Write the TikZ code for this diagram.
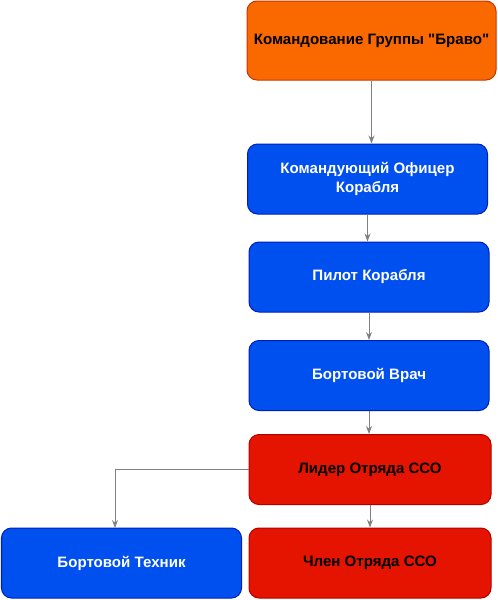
\documentclass[tikz,border=0pt]{standalone}
\usepackage{fontspec}
\setmainfont{Liberation Sans}
\usetikzlibrary{arrows.meta}
\definecolor{orangefill}{HTML}{FA6800}
\definecolor{orangeline}{HTML}{C73500}
\definecolor{bluefill}{HTML}{0050EF}
\definecolor{blueline}{HTML}{001DBC}
\definecolor{redfill}{HTML}{E51400}
\definecolor{redline}{HTML}{B20000}
\definecolor{linkgray}{HTML}{808080}
\begin{document}
\begin{tikzpicture}[x=0.75pt,y=-0.75pt,
    box/.style={rectangle,rounded corners=7.5pt,draw,line width=0.75pt,inner sep=0pt,
      align=center,font=\fontsize{11.3}{14.2}\selectfont\bfseries},
    cmdbox/.style={box,fill=orangefill,draw=orangeline,text=black,minimum width=186.75pt,minimum height=59.25pt},
    crewbox/.style={box,fill=bluefill,draw=blueline,text=white,minimum width=180pt,minimum height=52.5pt},
    squadbox/.style={box,fill=redfill,draw=redline,text=black,minimum width=181.5pt,minimum height=52.5pt},
    link/.style={draw=linkgray,line width=0.75pt,-{Stealth[length=6pt,width=4.5pt]}}]
  \useasboundingbox (0,0) rectangle (497,600);
  \node[cmdbox] (cmd) at (371.5,40.5) {Командование Группы \textquotedbl Браво\textquotedbl};
  \node[crewbox] (officer) at (367.5,179) {Командующий Офицер\\Корабля};
  \node[crewbox] (pilot) at (369,277) {Пилот Корабля};
  \node[crewbox] (doctor) at (369,375.5) {Бортовой Врач};
  \node[squadbox] (leader) at (370,469.5) {Лидер Отряда ССО};
  \node[crewbox] (tech) at (121.5,563) {Бортовой Техник};
  \node[squadbox] (member) at (370,563) {Член Отряда ССО};
  \coordinate (techtop) at (115,528);
  \draw[link] (cmd.south) -- (cmd.south |- officer.north);
  \draw[link] (officer.south) -- (officer.south |- pilot.north);
  \draw[link] (pilot.south) -- (pilot.south |- doctor.north);
  \draw[link] (doctor.south) -- (doctor.south |- leader.north);
  \draw[link] (leader.south) -- (leader.south |- member.north);
  \draw[link] (leader.west) -| (techtop);
\end{tikzpicture}
\end{document}
